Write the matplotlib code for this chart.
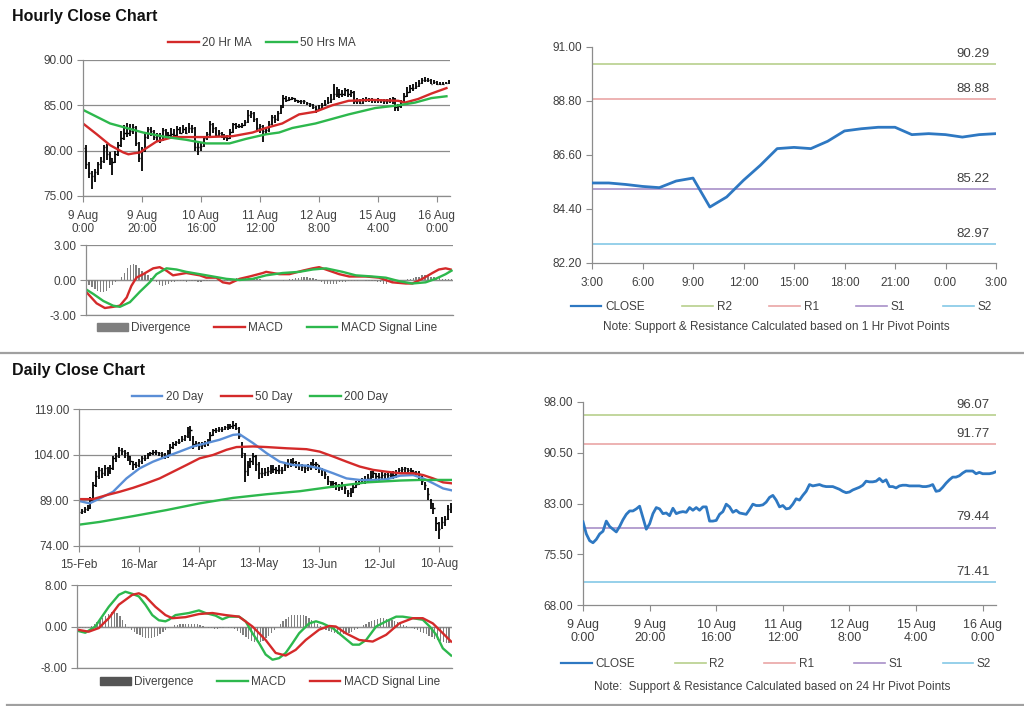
import matplotlib
matplotlib.use("Agg")
import matplotlib.pyplot as plt
from matplotlib.lines import Line2D
from matplotlib.patches import Patch
import numpy as np

plt.rcParams['font.family'] = ['Liberation Sans', 'DejaVu Sans']

# ---------------- hourly data (9 Aug 0:00 -> 16 Aug) ----------------
hourly_close = [80.3, 78.5, 77.5, 77.2, 77.7, 78.5, 78.9, 80.4, 79.6, 79.2,
                78.8, 79.6, 80.6, 81.4, 81.9, 81.9, 82.2, 82.6, 80.9, 79.2,
                80.0, 81.5, 82.4, 82.2, 81.5, 81.6, 81.2, 82.3, 81.5, 81.7,
                81.8, 81.7, 82.4, 82.0, 82.4, 82.0, 82.5, 82.5, 80.4, 80.4,
                80.5, 81.4, 81.8, 82.9, 82.5, 81.7, 82.0, 81.6, 81.5, 81.4,
                82.1, 82.9, 82.7, 82.7, 82.8, 83.2, 83.9, 84.2, 83.5, 82.5,
                82.7, 82.2, 82.3, 82.9, 83.7, 83.5, 84.2, 84.8, 85.8, 85.6,
                85.7, 85.8, 85.6, 85.5, 85.5, 85.5, 85.3, 85.1, 84.8, 84.6,
                84.7, 85.0, 85.2, 85.4, 85.7, 86.3, 86.2, 86.2, 86.3, 86.7,
                86.2, 86.5, 85.5, 85.5, 85.3, 85.6, 85.7, 85.7, 85.6, 85.6,
                85.6, 85.6, 85.5, 85.5, 85.6, 85.8, 84.8, 84.9, 85.4, 86.0,
                86.5, 86.9, 86.9, 87.1, 87.5, 87.8, 87.8, 87.8, 87.4, 87.6,
                87.4, 87.4, 87.4, 87.5, 87.7]
hourly_lo = [79.8, 78.0, 77.0, 75.8, 76.5, 77.3, 78.0, 78.6, 79.0, 78.4,
             77.3, 78.6, 79.4, 80.4, 81.2, 81.5, 81.6, 81.8, 80.5, 78.8,
             77.8, 79.8, 81.3, 81.6, 81.2, 81.0, 80.9, 81.1, 81.2, 81.3,
             81.4, 81.4, 81.6, 81.8, 81.9, 81.8, 81.9, 82.0, 80.0, 79.5,
             80.0, 80.4, 81.2, 81.6, 82.0, 81.5, 81.6, 81.4, 81.2, 81.1,
             81.3, 82.0, 82.4, 82.5, 82.5, 82.7, 83.0, 83.6, 83.2, 82.1,
             82.0, 81.0, 81.8, 82.1, 82.8, 83.0, 83.3, 84.0, 84.7, 85.4,
             85.5, 85.6, 85.4, 85.3, 85.2, 85.1, 85.0, 84.8, 84.6, 84.2,
             84.4, 84.6, 84.9, 85.1, 85.3, 85.6, 85.9, 85.8, 85.9, 86.0,
             85.9, 85.9, 85.2, 85.2, 85.1, 85.2, 85.4, 85.4, 85.3, 85.3,
             85.3, 85.3, 85.2, 85.2, 85.3, 85.2, 84.4, 84.4, 84.7, 85.3,
             85.9, 86.4, 86.6, 86.8, 87.0, 87.4, 87.6, 87.6, 87.3, 87.3,
             87.2, 87.2, 87.2, 87.3, 87.4]
hourly_hi = [81.2, 80.6, 78.8, 77.8, 78.0, 78.7, 79.3, 80.6, 80.7, 79.9,
             79.2, 80.0, 81.0, 82.2, 82.8, 83.0, 82.9, 82.9, 82.7, 81.0,
             80.4, 82.0, 82.6, 82.6, 82.3, 82.0, 81.9, 82.5, 82.4, 82.1,
             82.5, 82.4, 82.7, 82.6, 82.8, 82.6, 83.0, 82.8, 82.6, 80.8,
             81.0, 81.6, 82.1, 83.3, 83.1, 82.6, 82.3, 82.1, 81.8, 81.7,
             82.4, 83.1, 83.0, 82.9, 83.0, 83.4, 84.5, 84.4, 84.3, 83.6,
             82.9, 82.8, 82.6, 83.3, 83.9, 83.9, 84.4, 85.0, 86.1, 86.0,
             85.9, 85.9, 85.8, 85.6, 85.6, 85.6, 85.4, 85.3, 85.2, 84.9,
             85.0, 85.3, 85.6, 85.9, 86.3, 87.3, 87.0, 86.8, 86.7, 86.9,
             86.8, 86.7, 86.6, 85.8, 85.7, 85.8, 85.9, 85.8, 85.8, 85.7,
             85.8, 85.7, 85.7, 85.7, 85.8, 85.9, 85.8, 85.2, 85.6, 86.4,
             87.0, 87.2, 87.4, 87.6, 87.8, 88.0, 88.1, 88.0, 87.9, 87.8,
             87.7, 87.6, 87.6, 87.6, 87.8]
hourly_ticks = ["9 Aug\n0:00", "9 Aug\n20:00", "10 Aug\n16:00", "11 Aug\n12:00",
                "12 Aug\n8:00", "15 Aug\n4:00", "16 Aug\n0:00"]

ma20h_x = [0, 4.7, 9.2, 13.7, 15.4, 17.1, 19.3, 21.6, 24.9, 30.6, 37.3, 41.8, 50.8,
           57.5, 62, 67.6, 73.3, 78.9, 84.5, 90.1, 98, 107, 109.2, 113.7, 118.2, 123.3]
ma20h = [83.0, 81.8, 80.6, 79.8, 79.6, 79.7, 79.8, 80.3, 81.0, 81.5, 81.5, 81.5, 81.6,
         82.0, 82.5, 83.0, 84.0, 84.3, 85.0, 85.5, 85.6, 85.5, 85.3, 85.7, 86.3, 86.9]
ma50h_x = [0, 9.2, 20.4, 28.3, 35, 41.8, 49.7, 55.3, 62, 66.5, 71, 78.9, 84.5, 90.1,
           99.1, 107, 112.6, 118.2, 123.3]
ma50h = [84.5, 83.0, 82.0, 81.5, 81.2, 80.8, 80.8, 81.3, 81.8, 82.0, 82.5, 83.0, 83.5,
         84.0, 84.7, 85.0, 85.3, 85.8, 86.0]

macdh_x = [0, 3.6, 6.4, 9.2, 11.5, 13.8, 15.4, 17.1, 19.4, 22.8, 25, 27.3, 29.5, 31.8,
           34, 38.6, 40.8, 44.2, 46.4, 48.7, 52.1, 55.5, 60, 61.1, 65.6, 69, 73.5,
           76.9, 79.1, 82.5, 85.9, 89.3, 94.9, 99.4, 103.9, 108.5, 110.7, 114.1,
           117.5, 119.7, 122, 123.7]
macdh = [-1.0, -2.0, -2.4, -2.3, -2.2, -1.5, -0.5, 0.2, 0.5, 1.0, 1.1, 0.8, 0.4, 0.5,
         0.6, 0.4, 0.2, 0.2, -0.2, -0.3, 0.1, 0.3, 0.6, 0.7, 0.5, 0.5, 0.8,
         1.0, 1.1, 0.8, 0.5, 0.3, 0.3, 0.2, -0.2, -0.3, -0.3, 0.1,
         0.6, 0.9, 1.0, 0.9]
sigh_x = [0, 2.5, 5.9, 9.2, 11.5, 14.9, 18.3, 21.6, 23.9, 27.3, 30.7, 34, 38.6, 43.1,
          47.6, 52.1, 56.6, 61.1, 66.7, 72.4, 76.9, 81.4, 87, 91.5, 97.2, 101.7,
          106.2, 110.7, 115.2, 118.6, 122, 124]
sigh = [-0.8, -1.2, -1.8, -2.2, -2.3, -1.9, -1.0, -0.2, 0.5, 1.0, 0.9, 0.7, 0.5, 0.3,
        0.1, 0.0, 0.1, 0.4, 0.6, 0.7, 0.9, 1.0, 0.7, 0.4, 0.3, 0.2,
        -0.1, -0.3, -0.2, 0.1, 0.5, 0.8]
divh = [-0.2, -0.4, -0.6, -0.8, -0.9, -1.0, -1.0, -0.9, -0.7, -0.4,
        -0.2, 0.0, 0.3, 0.6, 1.0, 1.3, 1.4, 1.3, 1.0, 0.8,
        0.6, 0.4, 0.2, 0.0, -0.2, -0.4, -0.5, -0.4, -0.3, -0.2,
        -0.2, -0.1, -0.1, -0.1, -0.2, -0.1, -0.1, -0.1, -0.2, -0.2,
        -0.1, -0.1, -0.1, 0.0, 0.0, -0.1, -0.1, -0.1, -0.1, -0.1,
        0.1, 0.2, 0.2, 0.2, 0.2, 0.1, 0.1, 0.1, 0.1, 0.1,
        0.0, 0.0, 0.0, 0.0, 0.0, 0.0, 0.0, -0.1, 0.0, 0.1,
        0.1, 0.2, 0.2, 0.3, 0.3, 0.3, 0.2, 0.2, 0.1, -0.1,
        -0.2, -0.3, -0.3, -0.3, -0.3, -0.3, -0.2, -0.2, -0.2, -0.1,
        -0.1, -0.1, -0.1, 0.0, 0.0, -0.1, -0.1, -0.1, -0.1, -0.2,
        -0.2, -0.3, -0.3, -0.2, -0.2, -0.1, -0.1, 0.0, 0.0, 0.1,
        0.1, 0.2, 0.3, 0.3, 0.4, 0.4, 0.4, 0.3, 0.3, 0.2,
        0.2, 0.1, 0.1, 0.1, 0.1]

# 1 hour pivot chart (3:00 -> 3:00)
pivot1_hours = ["3:00", "6:00", "9:00", "12:00", "15:00", "18:00", "21:00", "0:00", "3:00"]
pivot1_close = [85.46, 85.46, 85.40, 85.32, 85.27, 85.54, 85.66, 84.48, 84.89, 85.57,
                86.18, 86.86, 86.91, 86.86, 87.16, 87.58, 87.67, 87.73, 87.73, 87.43,
                87.47, 87.43, 87.33, 87.43, 87.47]
pivot1_levels = {"R2": 90.29, "R1": 88.88, "S1": 85.22, "S2": 82.97}

# 24 hour pivot levels
pivot24_levels = {"R2": 96.07, "R1": 91.77, "S1": 79.44, "S2": 71.41}

# ---------------- daily data (15 Feb -> Aug) ----------------
daily_close = [85.2, 85.6, 86.0, 86.5, 89.0, 94.0, 97.0, 99.0, 98.0, 99.5,
               98.5, 99.5, 102.8, 103.5, 105.5, 105.2, 104.5, 103.5, 102.0, 100.8,
               100.6, 101.8, 102.8, 103.0, 104.0, 104.5, 105.0, 105.0, 104.5, 104.3,
               103.9, 104.5, 106.5, 107.5, 108.0, 108.3, 109.2, 110.0, 111.5, 112.0,
               107.5, 107.8, 107.0, 107.2, 107.8, 108.3, 110.5, 112.0, 112.2, 112.5,
               112.5, 113.0, 113.2, 113.5, 113.8, 112.8, 110.0, 104.5, 98.5, 100.5,
               102.0, 103.5, 101.0, 98.0, 97.9, 98.2, 98.5, 99.2, 99.3, 98.9,
               99.0, 98.9, 100.5, 101.2, 101.5, 101.7, 101.0, 100.5, 100.0, 99.5,
               99.8, 100.1, 101.0, 100.8, 99.5, 98.8, 97.8, 95.5, 94.8, 94.6,
               94.0, 93.5, 94.2, 93.0, 91.3, 91.8, 93.5, 94.5, 95.1, 95.6,
               95.8, 96.2, 97.0, 97.9, 96.9, 96.8, 97.3, 97.5, 97.3, 97.2,
               97.3, 98.0, 99.0, 99.3, 99.5, 99.0, 98.6, 98.4, 98.0, 97.5,
               95.5, 94.0, 91.0, 88.0, 86.5, 81.5, 79.7, 82.0, 83.0, 86.0, 86.9]
daily_lo = [84.0, 84.5, 85.0, 85.5, 86.0, 88.5, 93.5, 96.0, 96.5, 97.0,
            97.0, 97.5, 99.0, 101.5, 103.0, 104.0, 103.0, 102.0, 100.5, 99.0,
            99.5, 100.0, 101.0, 102.0, 102.5, 103.5, 104.0, 104.0, 103.5, 103.0,
            102.5, 103.0, 104.0, 106.0, 107.0, 107.5, 108.0, 108.5, 109.5, 108.5,
            106.0, 106.5, 105.5, 106.0, 106.5, 107.0, 108.0, 110.0, 111.0, 111.5,
            111.5, 112.0, 112.0, 112.5, 112.5, 112.0, 109.0, 103.0, 95.0, 97.0,
            99.5, 100.5, 98.5, 96.0, 96.5, 97.0, 97.0, 97.5, 98.0, 97.5,
            97.5, 97.5, 98.5, 99.5, 100.0, 100.5, 99.5, 99.0, 98.5, 98.0,
            98.5, 99.0, 99.5, 99.0, 98.0, 97.0, 96.0, 94.0, 93.5, 93.0,
            92.5, 92.0, 92.5, 91.0, 90.0, 90.0, 91.5, 93.0, 94.0, 94.5,
            94.5, 95.0, 95.5, 96.5, 95.5, 95.5, 96.0, 96.0, 96.0, 96.0,
            96.0, 96.5, 97.5, 98.0, 98.0, 97.5, 97.5, 97.0, 97.0, 96.0,
            94.0, 92.5, 89.0, 86.0, 84.5, 79.0, 76.2, 79.5, 80.5, 82.5, 85.0]
daily_hi = [86.0, 86.3, 86.8, 87.5, 90.0, 95.0, 98.5, 100.0, 99.5, 100.5,
            100.0, 100.5, 103.5, 104.5, 106.5, 106.2, 105.5, 105.0, 103.5, 102.0,
            101.5, 102.5, 103.5, 104.0, 104.5, 105.0, 105.5, 105.5, 105.0, 105.0,
            104.5, 105.5, 107.5, 108.0, 108.5, 109.0, 110.0, 110.5, 113.0, 113.5,
            110.0, 108.5, 108.0, 108.0, 108.5, 109.0, 111.5, 112.5, 112.8, 113.0,
            113.0, 113.5, 114.0, 114.0, 115.0, 114.5, 113.0, 108.0, 104.5, 102.0,
            103.0, 104.5, 104.0, 101.5, 99.5, 99.5, 100.0, 100.5, 100.5, 100.0,
            100.5, 100.0, 101.5, 102.5, 102.5, 103.0, 102.0, 101.5, 101.0, 100.5,
            101.0, 101.5, 102.5, 101.5, 100.5, 99.5, 99.0, 97.0, 95.5, 95.5,
            95.0, 94.5, 95.0, 94.0, 92.5, 93.0, 94.0, 95.5, 96.0, 96.5,
            97.0, 97.5, 98.5, 98.5, 98.0, 98.0, 98.5, 98.0, 98.0, 98.0,
            98.5, 99.0, 99.5, 100.0, 100.0, 99.5, 99.5, 99.0, 98.5, 98.5,
            97.0, 95.0, 93.0, 89.5, 88.0, 83.5, 82.0, 83.5, 84.0, 87.5, 88.0]
daily_ticks = ["15-Feb", "16-Mar", "14-Apr", "13-May", "13-Jun", "12-Jul", "10-Aug"]

ma20d_x = [0, 3.7, 7.2, 11.9, 16.6, 21.2, 25.9, 30.6, 35.2, 39.9, 44.6, 49.2, 53.9, 56.2,
           60.9, 65.6, 70.2, 74.9, 79.6, 84.2, 88.9, 93.6, 98.2, 102.9, 107.6, 112.3,
           116.9, 120.4, 123.9, 127.4, 130.3]
ma20d = [88.8, 88.0, 89.6, 91.8, 96.2, 99.5, 101.7, 103.4, 105.0, 106.7, 107.8, 108.9,
         110.5, 110.7, 107.8, 104.5, 101.7, 100.6, 100.4, 99.5, 97.9, 96.2, 95.7, 95.7,
         95.9, 97.1, 97.3, 96.2, 94.6, 92.9, 92.3]
ma50d_x = [0, 4.9, 9.6, 14.2, 18.9, 23.6, 28.2, 32.9, 37.6, 42.2, 46.9, 51.6, 55.1, 60.9,
           65.6, 72.6, 79.6, 84.2, 88.9, 93.6, 98.2, 102.9, 107.6, 112.3, 116.9, 120.4,
           123.9, 127.4, 130.3]
ma50d = [89.4, 89.4, 90.7, 91.8, 93.1, 94.6, 96.2, 98.4, 100.6, 102.8, 103.9, 105.6,
         106.5, 106.7, 106.5, 106.1, 105.8, 105.0, 103.4, 101.7, 100.1, 99.0, 98.4,
         97.9, 97.9, 97.3, 96.2, 94.9, 94.6]
ma200d_x = [0, 7.2, 18.9, 30.6, 42.2, 53.9, 65.6, 77.3, 88.9, 100.6, 112.3, 119.3, 130.3]
ma200d = [81.0, 81.9, 83.8, 85.8, 88.0, 89.8, 91.0, 92.0, 93.5, 94.9, 95.5, 95.7, 95.7]

macdd_x = [0, 2.9, 6.4, 7.6, 11.1, 14.6, 16.9, 19.3, 21.6, 23.9, 26.3, 28.6, 30.9, 32.1,
           34.4, 39.1, 42.6, 44.9, 48.4, 50.8, 53.1, 56.6, 58.9, 61.3, 63.6, 65.9, 68.3,
           70.6, 72.9, 75.3, 77.6, 81.1, 83.5, 85.8, 89.3, 92.8, 96.3, 98.6, 101, 104.5,
           108, 111.5, 113.8, 117.3, 120.8, 123.2, 125.5, 127.8, 130.7]
macdd = [-0.8, -1.2, 0.0, 1.0, 3.8, 6.1, 6.7, 6.3, 5.8, 4.2, 2.2, 1.2, 1.0, 1.3,
         2.2, 2.6, 3.1, 2.6, 2.1, 1.4, 1.9, 1.9, 1.0, -1.3, -3.2, -5.4, -6.4,
         -6.1, -5.1, -3.2, -1.3, 0.6, 1.0, 0.6, -0.3, -1.9, -3.5, -3.5, -2.6, 0.0,
         1.0, 1.9, 1.9, 1.6, 1.3, 0.0, -1.6, -4.2, -5.6]
sigd_x = [0, 4.1, 7.6, 11.1, 14.6, 19.3, 21.6, 23.9, 27.4, 30.9, 33.3, 37.9, 42.6, 47.3,
          51.9, 56.6, 61.3, 65.9, 69.4, 72.9, 76.4, 79.9, 84.6, 88.1, 90.4, 93.9, 98.6,
          103.3, 108, 112.6, 117.3, 120.8, 124.3, 127.8, 130.7]
sigd = [-0.6, -1.0, -0.3, 1.6, 4.2, 6.1, 6.4, 5.8, 3.8, 2.2, 1.6, 1.8, 2.4, 2.6,
        2.2, 1.9, 0.0, -2.6, -5.1, -5.6, -4.5, -2.6, -0.6, 0.1, 0.0, -1.3, -2.6,
        -2.9, -1.6, 0.6, 1.6, 1.6, 0.6, -1.3, -2.9]
divd = [-0.3, -0.3, -0.2, -0.3, -0.2, 0.1, 0.4, 0.8,
        1.2, 1.6, 2.0, 2.4, 2.7, 2.9, 2.6, 2.0, 1.2, 0.5,
        -0.2, -0.6, -1.0, -1.4,
        -1.7, -2.0, -2.2, -2.3, -2.3, -2.1, -1.8, -1.4, -1.0, -0.6,
        -0.3, 0.0, 0.2, 0.3,
        0.4, 0.5, 0.5, 0.4, 0.5, 0.5, 0.4, 0.3, 0.1,
        -0.1, -0.2, -0.3, -0.4, -0.4, -0.3, -0.2, -0.1, -0.2, -0.3, -0.5, -0.8,
        -1.2, -1.6, -2.0, -2.4, -2.7, -2.9, -3.0, -2.9, -2.7, -2.3, -1.8, -1.2,
        -0.6, 0.0, 0.5, 1.0,
        1.5, 1.9, 2.2, 2.3, 2.3, 2.3, 2.2, 2.0, 1.7, 1.3, 0.9, 0.5,
        0.1, -0.3, -0.6, -0.9,
        -1.1, -1.3, -1.4, -1.5, -1.5, -1.4, -1.2, -1.0, -0.7, -0.4,
        -0.1, 0.2, 0.5, 0.8, 1.1, 1.3, 1.5, 1.6, 1.6, 1.5, 1.4, 1.2, 1.0, 0.8, 0.5,
        0.3, 0.1, -0.1, -0.3, -0.5,
        -0.7, -1.0, -1.2, -1.5, -1.8, -2.1, -2.4, -2.6, -2.8, -3.0, -3.1, -3.2]

# ---------------- styling ----------------
W, H = 1024, 706
GRAY = "#8c8c8c"
TXT = "#404040"
RED = "#d42a2a"
GREEN = "#2db84d"
BLUE20 = "#5a8ed6"
CLOSE_C = "#2e78c2"
LEVEL_C = {"R2": "#b8d08c", "R1": "#eaa5a5", "S1": "#a890c8", "S2": "#84c8e6"}
FS = 8.5

fig = plt.figure(figsize=(W / 100, H / 100), dpi=100)


def box(x0, y0, x1, y1):
    return fig.add_axes([x0 / W, 1 - y1 / H, (x1 - x0) / W, (y1 - y0) / H])


def style(ax, grid=True):
    for s in ["top", "right"]:
        ax.spines[s].set_visible(False)
    for s in ["left", "bottom"]:
        ax.spines[s].set_color(GRAY)
        ax.spines[s].set_linewidth(0.9)
    ax.tick_params(colors=GRAY, labelcolor=TXT, labelsize=FS, length=4, width=0.8,
                   direction="out", pad=3)
    ax.yaxis.set_major_formatter(plt.FormatStrFormatter("%.2f"))
    if grid:
        ax.yaxis.grid(True, color=GRAY, lw=0.9)
        ax.set_axisbelow(True)


def fig_legend(handles, labels, cx, cy, colsp):
    fig.legend(handles, labels, loc="center", bbox_to_anchor=(cx / W, 1 - cy / H),
               ncol=len(labels), frameon=False, fontsize=FS, labelcolor=TXT,
               handlelength=2.6, handletextpad=0.3, columnspacing=colsp,
               borderaxespad=0, borderpad=0)


def level_lines(ax, levels):
    for name, v in levels.items():
        ax.axhline(v, color=LEVEL_C[name], lw=1.2)
        ax.annotate(f"{v:.2f}", xy=(0.985, v), xycoords=ax.get_yaxis_transform(),
                    xytext=(0, 3), textcoords="offset points", ha="right", va="bottom",
                    fontsize=9.5, color=TXT)


# titles and separators
fig.text(12 / W, 1 - 16 / H, "Hourly Close Chart", fontsize=11.5, fontweight="bold",
         va="center", ha="left", color="#111111")
fig.text(12 / W, 1 - 370 / H, "Daily Close Chart", fontsize=11.5, fontweight="bold",
         va="center", ha="left", color="#111111")
fig.add_artist(Line2D([0, 1], [1 - 353 / H] * 2, color="#a0a0a0", lw=1.6))
fig.add_artist(Line2D([7 / W, 1], [1 - 704.5 / H] * 2, color="#a0a0a0", lw=1.6))

# ---- hourly price ----
ax = box(83, 60, 450, 196)
style(ax)
xh = np.arange(len(hourly_close))
ax.vlines(xh, hourly_lo, hourly_hi, color="black", lw=1.3)
ax.hlines(hourly_close, xh, xh + 0.45, color="black", lw=1.0)
l20, = ax.plot(ma20h_x, ma20h, color=RED, lw=1.7)
l50, = ax.plot(ma50h_x, ma50h, color=GREEN, lw=1.7)
ax.set_xlim(0, 124.5)
ax.set_ylim(75, 90)
ax.set_yticks([75, 80, 85, 90])
ax.set_xticks(np.arange(0, 121, 20))
ax.set_xticklabels(hourly_ticks, linespacing=1.15)
ax.tick_params(axis="x", pad=6)
fig_legend([l20, l50], ["20 Hr MA", "50 Hrs MA"], 262, 43, 1.2)

# ---- hourly MACD ----
ax = box(86, 245, 453, 315)
style(ax)
ax.bar(np.arange(len(divh)), divh, width=0.45, color="#7f7f7f")
lm, = ax.plot(macdh_x, macdh, color=RED, lw=1.7)
ls, = ax.plot(sigh_x, sigh, color=GREEN, lw=1.7)
ax.axhline(0, color=GRAY, lw=0.9, zorder=0)
ax.set_xlim(0, 124.5)
ax.set_ylim(-3, 3)
ax.set_yticks([-3, 0, 3])
ax.set_xticks(np.arange(0, 121, 20))
ax.set_xticklabels([])
ax.tick_params(axis="x", length=0)
fig_legend([Patch(color="#7f7f7f"), lm, ls], ["Divergence", "MACD", "MACD Signal Line"],
           267, 328, 2.0)

# ---- 1 hr pivot chart ----
ax = box(592, 47, 996, 263)
style(ax, grid=False)
xp = np.arange(len(pivot1_close))
lc, = ax.plot(xp, pivot1_close, color=CLOSE_C, lw=2.0, zorder=3)
level_lines(ax, pivot1_levels)
ax.set_xlim(0, 24)
ax.set_ylim(82.2, 91.0)
ax.set_yticks([82.2, 84.4, 86.6, 88.8, 91.0])
ax.set_xticks(np.arange(0, 25, 3))
ax.set_xticklabels(pivot1_hours)
ax.tick_params(axis="x", pad=6)
lvl_handles = [Line2D([], [], color=LEVEL_C[k], lw=1.2) for k in ["R2", "R1", "S1", "S2"]]
fig_legend([Line2D([], [], color=CLOSE_C, lw=1.6)] + lvl_handles,
           ["CLOSE", "R2", "R1", "S1", "S2"], 781, 307, 3.2)
fig.text(776 / W, 1 - 327 / H, "Note: Support & Resistance Calculated based on 1 Hr Pivot Points",
         ha="center", va="center", fontsize=FS, color=TXT)

# ---- daily price ----
ax = box(79, 409, 452, 546)
style(ax)
xd = np.arange(len(daily_close))
ax.vlines(xd, daily_lo, daily_hi, color="black", lw=1.3)
ax.hlines(daily_close, xd, xd + 0.45, color="black", lw=1.0)
b20, = ax.plot(ma20d_x, ma20d, color=BLUE20, lw=1.7)
r50, = ax.plot(ma50d_x, ma50d, color=RED, lw=1.7)
g200, = ax.plot(ma200d_x, ma200d, color=GREEN, lw=1.7)
ax.set_xlim(0, 130.5)
ax.set_ylim(74, 119)
ax.set_yticks([74, 89, 104, 119])
ax.set_xticks(np.arange(0, 127, 21))
ax.set_xticklabels(daily_ticks)
ax.tick_params(axis="x", pad=5)
fig_legend([b20, r50, g200], ["20 Day", "50 Day", "200 Day"], 260, 397, 1.5)

# ---- daily MACD ----
ax = box(77, 585, 452, 668)
style(ax)
ax.bar(np.arange(len(divd)), divd, width=0.45, color="#7f7f7f")
gm, = ax.plot(macdd_x, macdd, color=GREEN, lw=1.7)
rs, = ax.plot(sigd_x, sigd, color=RED, lw=1.7)
ax.axhline(0, color=GRAY, lw=0.9, zorder=0)
ax.set_xlim(0, 131)
ax.set_ylim(-8, 8)
ax.set_yticks([-8, 0, 8])
ax.set_xticks([])
fig_legend([Patch(color="#555555"), gm, rs], ["Divergence", "MACD", "MACD Signal Line"],
           270, 682, 2.0)

# ---- 24 hr pivot chart ----
ax = box(583, 402, 996, 605)
style(ax, grid=False)
lc2, = ax.plot(xh, hourly_close, color=CLOSE_C, lw=2.0, zorder=3)
level_lines(ax, pivot24_levels)
ax.set_xlim(0, 124)
ax.set_ylim(68, 98)
ax.set_yticks([68, 75.5, 83, 90.5, 98])
ax.set_xticks(np.arange(0, 121, 20))
ax.set_xticklabels(hourly_ticks, linespacing=1.15)
ax.tick_params(axis="x", pad=6, labelsize=9)
fig_legend([Line2D([], [], color=CLOSE_C, lw=1.6)] + lvl_handles,
           ["CLOSE", "R2", "R1", "S1", "S2"], 776, 664, 3.4)
fig.text(772 / W, 1 - 687 / H, "Note:  Support & Resistance Calculated based on 24 Hr Pivot Points",
         ha="center", va="center", fontsize=FS, color=TXT)

fig.savefig("out.png", dpi=100)
